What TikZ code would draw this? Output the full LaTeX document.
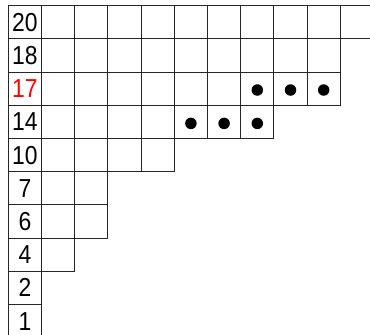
\documentclass[tikz,border=0pt]{standalone}
\usepackage{fontspec}
\setmainfont{Liberation Sans}
\newfontfamily\labfont[FakeStretch=0.88]{Liberation Sans}
\begin{document}
\begin{tikzpicture}[x=1pt,y=-1pt,
  cell/.style={draw=black!85,line width=0.9pt,minimum size=33.2pt,inner sep=0pt,outer sep=0pt,anchor=north west},
  lab/.style={cell,font=\labfont\fontsize{26}{26}\selectfont,text depth=0pt},
  dotmark/.style={circle,fill=black,draw=none,inner sep=0pt,minimum size=11.5pt}]
\useasboundingbox (0,0) rectangle (370,335);
\clip (0,0) rectangle (370,335);
\foreach \lab/\len/\col [count=\r from 0] in {20/10/black,18/9/black,17/9/red,14/7/black,10/4/black,7/2/black,6/2/black,4/1/black,2/0/black,1/0/black} {
  \node[lab,text=\col] (L\r) at (8.3, 5.7+33.2*\r) {\lab};
  \ifnum\len>0
    \foreach \c in {1,...,\len} {\node[cell] (c\r-\c) at (8.3+33.2*\c, 5.7+33.2*\r) {};}
  \fi
}
\foreach \c in {7,8,9} {\node[dotmark] (d2-\c) at ([yshift=-1.3pt]c2-\c.center) {};}
\foreach \c in {5,6,7} {\node[dotmark] (d3-\c) at ([yshift=-1.5pt]c3-\c.center) {};}
\end{tikzpicture}
\end{document}
